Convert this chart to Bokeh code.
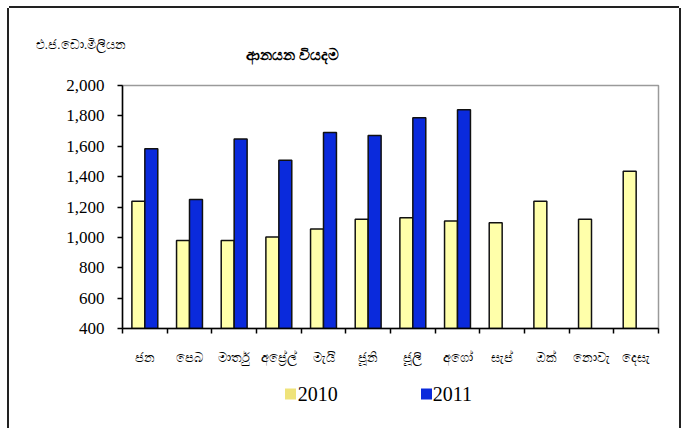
from bokeh.plotting import figure
from bokeh.models import (Range1d, FixedTicker, NumeralTickFormatter, ColumnDataSource,
                          Title, LinearAxis)
from bokeh.embed import file_html
from bokeh.resources import INLINE

months = ["ජන", "පෙබ", "මාර්තු", "අප්‍රේල්", "මැයි", "ජූනි", "ජූලි", "අගෝ", "සැප්", "ඔක්", "නොවැ", "දෙසැ"]
series_names = ["2010", "2011"]
values_2010 = [1238, 980, 980, 1002, 1055, 1120, 1130, 1108, 1097, 1238, 1120, 1436]
values_2011 = [1584, 1249, 1648, 1507, 1691, 1670, 1788, 1840]
y_ticks = [400, 600, 800, 1000, 1200, 1400, 1600, 1800, 2000]
title_text = "ආනයන වියදම"
unit_text = "එ.ජ.ඩො.මිලියන"

C2010 = "#FFFFAA"
C2011 = "#0A2ADC"
SERIF = "Liberation Serif"

p = figure(width=670, height=420, x_range=Range1d(0, 12), y_range=Range1d(400, 2000),
           output_backend="svg", toolbar_location=None,
           min_border_left=113, min_border_right=21, min_border_top=77, min_border_bottom=100)
p.styles = {"margin-left": "9px", "margin-top": "8px",
            "box-shadow": "-2px 0 0 0 #222222, 2px 0 0 0 #222222, 0 -2px 0 0 #222222"}
p.xgrid.visible = False
p.ygrid.visible = False
p.outline_line_color = "#9a9a9a"
p.outline_line_width = 1.5
p.background_fill_color = "white"
p.border_fill_color = "white"

bw = 0.29
src10 = ColumnDataSource(dict(x=[i + 0.5 - bw / 2 for i in range(len(values_2010))], top=values_2010))
src11 = ColumnDataSource(dict(x=[i + 0.5 + bw / 2 for i in range(len(values_2011))], top=values_2011))
p.vbar(x="x", top="top", bottom=400, width=bw, source=src10,
       fill_color=C2010, line_color="#111111", line_width=1.5)
p.vbar(x="x", top="top", bottom=400, width=bw, source=src11,
       fill_color=C2011, line_color="#111111", line_width=1.5)

# y axis
yax = p.yaxis[0]
yax.ticker = FixedTicker(ticks=y_ticks)
yax.formatter = NumeralTickFormatter(format="0,0")
yax.axis_line_color = "black"
yax.axis_line_width = 1.5
yax.major_tick_in = 0
yax.major_tick_out = 5
yax.major_tick_line_color = "black"
yax.major_tick_line_width = 1.5
yax.minor_tick_line_color = None
yax.major_label_text_font = SERIF
yax.major_label_text_font_size = "17px"
yax.major_label_text_color = "black"
yax.major_label_standoff = 13

# x axis: labels at centers, ticks at category boundaries (minor ticks)
xax = p.xaxis[0]
xax.ticker = FixedTicker(ticks=[i + 0.5 for i in range(len(months))],
                         minor_ticks=list(range(len(months) + 1)))
xax.major_label_overrides = {i + 0.5: m for i, m in enumerate(months)}
xax.axis_line_color = "black"
xax.axis_line_width = 1.5
xax.major_tick_line_color = None
xax.major_tick_in = 0
xax.major_tick_out = 0
xax.minor_tick_in = 0
xax.minor_tick_out = 5
xax.minor_tick_line_color = "black"
xax.minor_tick_line_width = 1.5
xax.major_label_text_font_size = "13px"
xax.major_label_text_color = "black"
xax.major_label_standoff = 16

# legend row below the month labels: coloured squares (tick marks) + series names.
# The label is centred on the 2010 square, so it is padded on the left.
NB = "\u00a0"
legend_text = NB * 38 + series_names[0] + NB * 19 + series_names[1]
lax = LinearAxis(ticker=FixedTicker(ticks=[3.75], minor_ticks=[6.8]))
lax.major_label_overrides = {3.75: legend_text}
lax.axis_line_color = None
lax.major_label_text_font = SERIF
lax.major_label_text_font_size = "20px"
lax.major_label_text_color = "black"
lax.major_tick_line_color = "#EFE37A"
lax.major_tick_line_width = 11
lax.minor_tick_line_color = C2011
lax.minor_tick_line_width = 11
try:
    lax.major_tick_in = -21
    lax.minor_tick_in = -21
    lax.major_label_standoff = -17
except Exception:
    lax.major_tick_in = 0
    lax.minor_tick_in = 0
    lax.major_label_standoff = 0
lax.major_tick_out = 32
lax.minor_tick_out = 32
p.add_layout(lax, "below")

# titles above the plot area (spacer, chart title, unit label)
p.add_layout(Title(text=NB, text_font_size="13px", standoff=6, text_color="white"), "above")
p.add_layout(Title(text=title_text, align="left", offset=123, standoff=0,
                   text_font_size="15px", text_font_style="bold", text_color="black"), "above")
unit_title = Title(text=unit_text, align="left", offset=-87,
                   text_font_size="13px", text_font_style="normal", text_color="black")
try:
    unit_title.standoff = -16
except Exception:
    unit_title.standoff = 0
p.add_layout(unit_title, "above")

open("out.html", "w").write(file_html(p, INLINE))
